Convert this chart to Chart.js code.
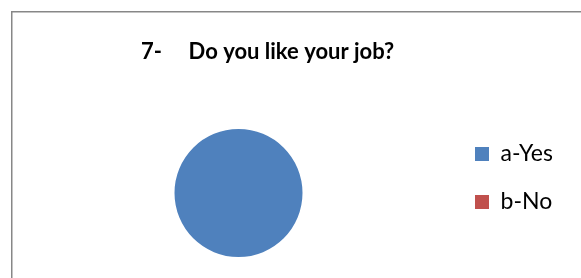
<!DOCTYPE html>
<html>
<head>
<meta charset="utf-8">
<script src="https://cdn.jsdelivr.net/npm/chart.js@4"></script>
<style>
  html, body { margin: 0; padding: 0; background: #fff; }
  #wrap { position: relative; width: 581px; height: 278px; }
</style>
</head>
<body>
<div id="wrap"><canvas id="jobChart" width="581" height="278"></canvas></div>
<script>
const titleText = "7-     Do you like your job?";
const answers = ["a-Yes", "b-No"];
const answerCounts = [100, 0];
const sliceColors = ["#4F81BD", "#C0504D"];

// grey frame line along top and left (the rest is cropped off in the picture)
const framePlugin = {
  id: "frame",
  beforeDraw(chart) {
    const ctx = chart.ctx;
    ctx.save();
    ctx.strokeStyle = "#878787";
    ctx.lineWidth = 1.5;
    ctx.beginPath();
    ctx.moveTo(11.75, chart.height);
    ctx.lineTo(11.75, 11.75);
    ctx.lineTo(chart.width, 11.75);
    ctx.stroke();
    ctx.restore();
  },
};

const ctx = document.querySelector("#jobChart").getContext("2d");
const chart = new Chart(ctx, {
  type: "pie",
  data: {
    labels: answers,
    datasets: [
      {
        data: answerCounts,
        backgroundColor: sliceColors,
        borderWidth: 0,
      },
    ],
  },
  options: {
    responsive: false,
    animation: false,
    // title is centred over a wider box than the pie, so the left side
    // runs past the canvas and an empty axis pushes the pie back in
    layout: {
      padding: { left: -23, right: 23, top: 99, bottom: 21 },
    },
    scales: {
      spacer: {
        type: "linear",
        position: "left",
        display: true,
        ticks: { display: false },
        grid: { display: false },
        border: { display: false },
        afterFit: (scale) => {
          scale.width = 50;
        },
      },
    },
    plugins: {
      title: {
        display: true,
        text: titleText,
        color: "#000",
        font: { family: "Lato", size: 22, weight: "bold", lineHeight: 1.2 },
        padding: { top: -60.2, bottom: 63.8 },
      },
      legend: {
        position: "right",
        maxWidth: 108,
        labels: {
          color: "#000",
          font: { family: "Lato", size: 23 },
          boxWidth: 14,
          boxHeight: 14,
          padding: 25,
        },
      },
      tooltip: { enabled: false },
    },
  },
  plugins: [framePlugin],
});
</script>
</body>
</html>
